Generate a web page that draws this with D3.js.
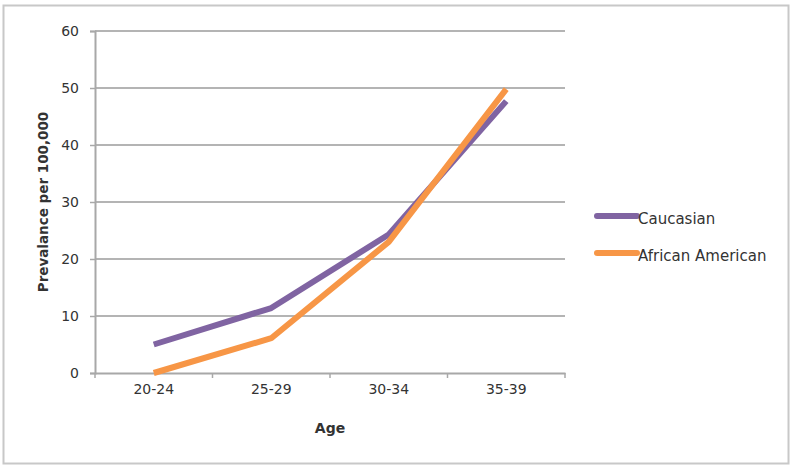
<!DOCTYPE html>
<html>
<head>
<meta charset="utf-8">
<script src="https://cdn.jsdelivr.net/npm/d3@7"></script>
<style>
  body { margin: 0; background: #fff; }
  svg text { font-family: "DejaVu Sans", "Noto Sans", sans-serif; fill: #333; }
</style>
</head>
<body>
<div id="chart"></div>
<script>
const ageGroups = ['20-24', '25-29', '30-34', '35-39'];
const caucasian = [5, 11.4, 24.3, 47.7];
const africanAmerican = [0, 6.1, 23, 49.8];
const yTicks = [0, 10, 20, 30, 40, 50, 60];
const seriesNames = ['Caucasian', 'African American'];
const seriesColors = ['#8064a2', '#f79646'];

const W = 800, H = 471;
const margin = { left: 95, right: 235, top: 31, bottom: 98 };

const svg = d3.select('#chart').append('svg')
  .attr('width', W)
  .attr('height', H);

svg.append('rect')
  .attr('x', 3.5).attr('y', 5.5)
  .attr('width', 785).attr('height', 458)
  .attr('fill', 'none')
  .attr('stroke', '#c8c8c8')
  .attr('stroke-width', 2);

const x = d3.scaleBand()
  .domain(ageGroups)
  .range([margin.left, W - margin.right]);

const y = d3.scaleLinear()
  .domain([0, 60])
  .range([H - margin.bottom, margin.top]);

// gridlines
svg.append('g')
  .selectAll('line')
  .data(yTicks.filter(d => d > 0))
  .join('line')
  .attr('x1', margin.left).attr('x2', W - margin.right)
  .attr('y1', d => y(d)).attr('y2', d => y(d))
  .attr('stroke', '#b4b4b4')
  .attr('stroke-width', 2);

// y axis
const yAxis = svg.append('g')
  .attr('transform', `translate(${margin.left},0)`)
  .call(d3.axisLeft(y).tickValues(yTicks).tickSize(5).tickPadding(11));
yAxis.select('.domain').attr('stroke', '#a8a8a8').attr('stroke-width', 2);
yAxis.selectAll('.tick line').attr('stroke', '#a8a8a8').attr('stroke-width', 1.5);
yAxis.selectAll('.tick text')
  .style('font-size', '14px')
  .style('font-family', '"DejaVu Sans", sans-serif')
  .attr('fill', '#3a3a3a');

// x axis with tick marks at band edges
const xAxis = svg.append('g')
  .attr('transform', `translate(0,${y(0)})`)
  .call(d3.axisBottom(x).tickSize(0).tickPadding(11));
xAxis.select('.domain').attr('stroke', '#a8a8a8').attr('stroke-width', 2);
xAxis.selectAll('.tick text')
  .style('font-size', '14px')
  .style('font-family', '"DejaVu Sans", sans-serif')
  .attr('fill', '#3a3a3a');

svg.append('g')
  .selectAll('line')
  .data(ageGroups.concat(['end']))
  .join('line')
  .attr('x1', (d, i) => margin.left + i * x.bandwidth())
  .attr('x2', (d, i) => margin.left + i * x.bandwidth())
  .attr('y1', y(0))
  .attr('y2', y(0) + 5)
  .attr('stroke', '#a8a8a8')
  .attr('stroke-width', 1.5);

// axis titles
svg.append('text')
  .attr('x', (margin.left + W - margin.right) / 2)
  .attr('y', 433)
  .attr('text-anchor', 'middle')
  .style('font-size', '14px')
  .style('font-weight', 'bold')
  .text('Age');

svg.append('text')
  .attr('transform', `translate(48,${y(30)}) rotate(-90)`)
  .attr('text-anchor', 'middle')
  .style('font-size', '13.5px')
  .style('font-weight', 'bold')
  .text('Prevalance per 100,000');

// lines
const line = d3.line()
  .x((d, i) => x(ageGroups[i]) + x.bandwidth() / 2)
  .y(d => y(d));

[caucasian, africanAmerican].forEach((vals, k) => {
  svg.append('path')
    .datum(vals)
    .attr('d', line)
    .attr('fill', 'none')
    .attr('stroke', seriesColors[k])
    .attr('stroke-width', 6)
    .attr('stroke-linejoin', 'round');
});

// legend
const legend = svg.append('g')
  .selectAll('g')
  .data(seriesNames)
  .join('g')
  .attr('transform', (d, i) => `translate(597,${216 + i * 37})`);

legend.append('line')
  .attr('x1', 0).attr('x2', 40)
  .attr('stroke', (d, i) => seriesColors[i])
  .attr('stroke-width', 6)
  .attr('stroke-linecap', 'round');

legend.append('text')
  .attr('x', 41)
  .attr('y', 8)
  .style('font-size', '15px')
  .text(d => d);
</script>
</body>
</html>
